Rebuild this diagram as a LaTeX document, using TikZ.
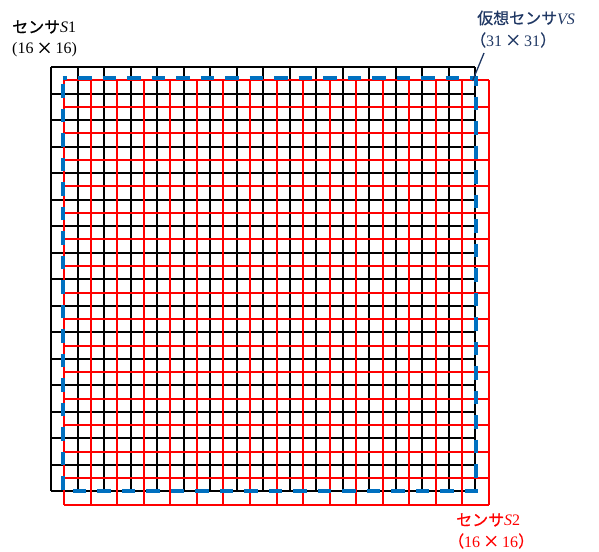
\documentclass[tikz,border=0pt]{standalone}
\usepackage{fontspec}
\setmainfont{Liberation Serif}
\newfontfamily\jp[FakeBold=0.6]{Noto Sans CJK JP}
\definecolor{navy}{HTML}{203864}
\definecolor{vsblue}{HTML}{0070C0}
\definecolor{sred}{HTML}{FF0000}
\newcommand{\tms}{\hspace{3pt}{\jp ×}\hspace{3pt}}
\tikzset{
  lbl/.style={inner sep=0pt, anchor=west, font=\fontsize{16}{19}\selectfont},
  blackgrid/.style={line width=2pt, black},
  redgrid/.style={line width=2pt, sred},
  vsbox/.style={line width=4pt, vsblue, dash pattern=on 13.5pt off 11pt, dash phase=9pt},
  leader/.style={line width=1.3pt, navy}
}
\begin{document}
\begin{tikzpicture}[x=1pt,y=-1pt]
\useasboundingbox (0,0) rectangle (599,551);
% black grid (sensor S1)
\def\st{26.53}
\foreach \i in {0,...,16}{
  \draw[blackgrid] ({51+\i*\st},67) -- ({51+\i*\st},{67+16*\st});
  \draw[blackgrid] (51,{67+\i*\st}) -- ({51+16*\st},{67+\i*\st});
}
% red grid (sensor S2)
\foreach \i in {0,...,16}{
  \draw[redgrid] ({64.3+\i*\st},80.3) -- ({64.3+\i*\st},{80.3+16*\st});
  \draw[redgrid] (64.3,{80.3+\i*\st}) -- ({64.3+16*\st},{80.3+\i*\st});
}
% virtual sensor VS
\coordinate (vsTL) at (62.5,78);
\coordinate (vsBR) at (476,490.5);
\draw[vsbox] (vsTL) -- (vsTL -| vsBR) -- (vsBR) -- (vsBR -| vsTL) -- cycle;
\coordinate (vstip) at (472.5,81);
% labels
\node[lbl] (s1a) at (12,27) {{\jp センサ}\textit{S}1};
\node[lbl] (s1b) at (12,50) {(16\tms16)};
\node[lbl, text=navy] (vsa) at (477,18) {{\jp 仮想センサ}\textit{VS}};
\node[lbl, text=navy] (vsb) at (470,40) {{\jp （}31\tms31{\jp ）}};
\node[lbl, text=sred] (s2a) at (456,520) {{\jp センサ}\textit{S}2};
\node[lbl, text=sred] (s2b) at (448,541) {{\jp （}16\tms16{\jp ）}};
\coordinate (vsfoot) at (484,53);
\draw[leader] (vsfoot) -- (vstip);
\end{tikzpicture}
\end{document}
